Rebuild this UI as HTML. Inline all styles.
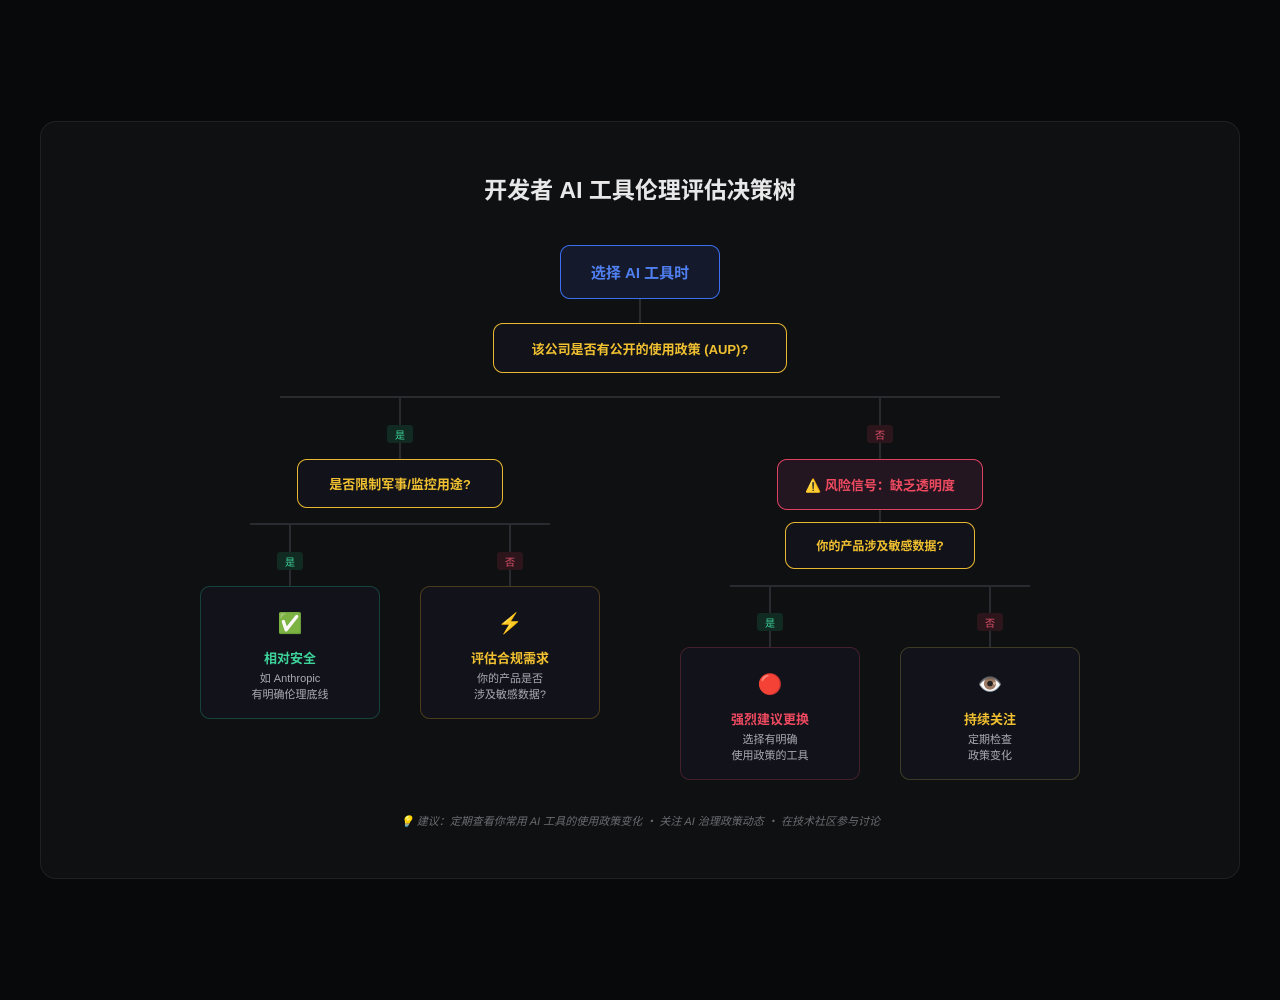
<!DOCTYPE html><html><head><meta charset="utf-8"><style>
*{margin:0;padding:0;box-sizing:border-box}
body{width:1280px;height:1000px;background:#08090b;position:relative;overflow:hidden;font-family:"Liberation Sans","Noto Sans CJK SC",sans-serif}
.a{position:absolute}
.card{left:40px;top:121px;width:1200px;height:758px;background:#0f1012;border:1px solid #1f2024;border-radius:16px}
.box{position:absolute;display:flex;align-items:center;justify-content:center;border-radius:10px;font-weight:bold;background:#11121a;border:1px solid #e8b830;color:#f0c030;font-size:13px}
.vl{position:absolute;width:2px;background:#2a2b30}
.hl{position:absolute;height:2px;background:#2a2b30}
.by,.bn{position:absolute;width:26px;height:18px;border-radius:3px;font-size:10px;display:flex;align-items:center;justify-content:center}
.by{background:#112a22;color:#3dd29a}.bn{background:#2c161c;color:#e0506a}
.leaf{position:absolute;width:180px;border-radius:10px;background:#11121a;text-align:center}
.leaf .i{font-size:20px;margin-top:22px;height:30px;line-height:30px}
.leaf .t{font-size:13px;font-weight:bold;margin-top:9px}
.leaf .d{font-size:11px;color:#a8a8b0;line-height:16px;margin-top:4px}
</style></head><body>
<div class="a card"></div>
<div class="a" style="left:0;width:1280px;top:171px;text-align:center;font-size:23px;font-weight:bold;color:#e8e8e8">开发者 AI 工具伦理评估决策树</div>
<div class="box" style="left:560px;top:245px;width:160px;height:54px;border-color:#3b6ef0;background:#141a2b;color:#4f7ff0;font-size:15px">选择 AI 工具时</div>
<div class="vl" style="left:639px;top:299px;height:24px"></div>
<div class="box" style="left:493px;top:323px;width:294px;height:50px">该公司是否有公开的使用政策 (AUP)?</div>
<div class="hl" style="left:280px;top:396px;width:720px"></div>
<div class="vl" style="left:399px;top:397px;height:28px"></div><div class="by" style="left:387px;top:425px">是</div><div class="vl" style="left:399px;top:443px;height:16px"></div>
<div class="vl" style="left:879px;top:397px;height:28px"></div><div class="bn" style="left:867px;top:425px">否</div><div class="vl" style="left:879px;top:443px;height:16px"></div>
<div class="box" style="left:297px;top:459px;width:206px;height:49px">是否限制军事/监控用途?</div>
<div class="box" style="left:777px;top:459px;width:206px;height:51px;border-color:#e04060;background:#241620;color:#f04a60">⚠️ 风险信号：缺乏透明度</div>
<div class="vl" style="left:879px;top:510px;height:12px"></div>
<div class="box" style="left:785px;top:522px;width:190px;height:47px;font-size:12px">你的产品涉及敏感数据?</div>
<div class="hl" style="left:250px;top:523px;width:300px"></div>
<div class="vl" style="left:289px;top:524px;height:28px"></div><div class="by" style="left:277px;top:552px">是</div><div class="vl" style="left:289px;top:570px;height:16px"></div>
<div class="vl" style="left:509px;top:524px;height:28px"></div><div class="bn" style="left:497px;top:552px">否</div><div class="vl" style="left:509px;top:570px;height:16px"></div>
<div class="hl" style="left:730px;top:585px;width:300px"></div>
<div class="vl" style="left:769px;top:586px;height:27px"></div><div class="by" style="left:757px;top:613px">是</div><div class="vl" style="left:769px;top:631px;height:16px"></div>
<div class="vl" style="left:989px;top:586px;height:27px"></div><div class="bn" style="left:977px;top:613px">否</div><div class="vl" style="left:989px;top:631px;height:16px"></div>
<div class="leaf" style="left:200px;top:586px;height:133px;border:1px solid #17423a"><div class="i">✅</div><div class="t" style="color:#3dd29a">相对安全</div><div class="d">如 Anthropic<br>有明确伦理底线</div></div>
<div class="leaf" style="left:420px;top:586px;height:133px;border:1px solid #4a3c1c"><div class="i">⚡</div><div class="t" style="color:#f0c030">评估合规需求</div><div class="d">你的产品是否<br>涉及敏感数据?</div></div>
<div class="leaf" style="left:680px;top:647px;height:133px;border:1px solid #43202c"><div class="i">🔴</div><div class="t" style="color:#f04a60">强烈建议更换</div><div class="d">选择有明确<br>使用政策的工具</div></div>
<div class="leaf" style="left:900px;top:647px;height:133px;border:1px solid #3e3a28"><div class="i">👁️</div><div class="t" style="color:#f0c030">持续关注</div><div class="d">定期检查<br>政策变化</div></div>
<div class="a" style="left:0;width:1280px;top:813px;text-align:center;font-size:11px;font-style:italic;color:#6a6a70">💡 建议：定期查看你常用 AI 工具的使用政策变化 ・ 关注 AI 治理政策动态 ・ 在技术社区参与讨论</div>
</body></html>
